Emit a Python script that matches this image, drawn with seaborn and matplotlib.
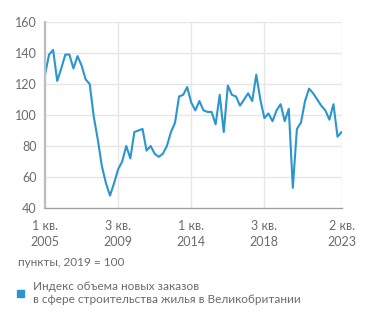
import pandas as pd
import matplotlib.pyplot as plt
import seaborn as sns

# quarterly index, 1Q2005 .. 2Q2023 (2019 = 100)
quarters = [f"{q} кв. {y}" for y in range(2005, 2024) for q in range(1, 5)][:74]
values = [126, 139, 142, 122, 130, 139, 139, 130, 138, 132,
          123, 120, 99, 84, 67, 56, 48, 56, 65, 70,
          80, 72, 89, 90, 91, 77, 80, 75, 73, 75,
          80, 89, 95, 112, 113, 118, 108, 103, 109, 103,
          102, 102, 94, 113, 89, 119, 113, 112, 106, 110,
          114, 109, 126, 110, 98, 101, 96, 103, 107, 96,
          104, 53, 91, 95, 109, 117, 114, 110, 106, 103,
          97, 107, 86, 89]
tick_pos = [0, 18, 36, 54, 73]
tick_labels = ["1 кв.\n2005", "3 кв.\n2009", "1 кв.\n2014", "3 кв.\n2018", "2 кв.\n2023"]
y_ticks = [40, 60, 80, 100, 120, 140, 160]

df = pd.DataFrame({"i": range(len(values)), "quarter": quarters, "value": values})

sns.set_theme(style="white")
plt.rcParams['font.family'] = ['Lato', 'DejaVu Sans']

blue = '#2a95cf'
grey = '#6b6b6b'

fig = plt.figure(figsize=(3.71, 3.29), dpi=100)
ax = fig.add_axes([0.1213, 0.3678, 0.8005, 0.5653])

sns.lineplot(data=df, x="i", y="value", color=blue, linewidth=1.5, ax=ax)

ax.set_xlim(0, 73.1)
ax.set_ylim(40, 160)
ax.set_xticks(tick_pos)
ax.set_xticklabels(tick_labels, fontsize=9, color=grey, linespacing=1.35)
ax.set_yticks(y_ticks)
ax.set_yticklabels([str(v) for v in y_ticks], fontsize=9, color=grey)
ax.set_xlabel("")
ax.set_ylabel("")

ax.grid(True, color='#e6e6e6', linewidth=1)
ax.set_axisbelow(True)
for s in ['top', 'right']:
    ax.spines[s].set_visible(False)
ax.spines['left'].set_color('#bdbdbd')
ax.spines['left'].set_linewidth(1.6)
ax.spines['bottom'].set_color('#9e9e9e')
ax.spines['bottom'].set_linewidth(0.9)
ax.tick_params(axis='both', length=4, width=0.8, color='#9e9e9e', pad=2)
ax.tick_params(axis='x', pad=5)

fig.text(18 / 371, 1 - 263 / 329, "пункты, 2019 = 100", fontsize=8.5, color=grey, va='center')
fig.patches.append(plt.Rectangle((17 / 371, 1 - 297 / 329), 7 / 371, 7 / 329,
                                 transform=fig.transFigure, color=blue, figure=fig))
fig.text(33 / 371, 1 - 293 / 329, "Индекс объема новых заказов\nв сфере строительства жилья в Великобритании",
         fontsize=8.5, color=grey, va='center', linespacing=1.3)

fig.savefig("out.png", dpi=100)
